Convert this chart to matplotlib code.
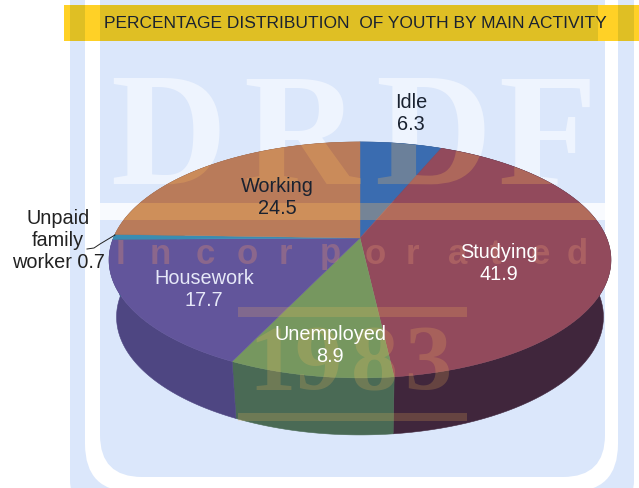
import numpy as np
import matplotlib
matplotlib.use("Agg")
import matplotlib.pyplot as plt
from matplotlib.font_manager import FontProperties
from matplotlib.patches import Polygon, FancyBboxPatch, Rectangle, PathPatch
from matplotlib.textpath import TextPath
from matplotlib.transforms import Affine2D

plt.rcParams['font.family'] = ['Liberation Sans', 'DejaVu Sans']

categories = ['Idle', 'Studying', 'Unemployed', 'Housework', 'Unpaid family worker', 'Working']
values = [6.3, 41.9, 8.9, 17.7, 0.7, 24.5]
top_colors = ['#3a6cb0', '#924a5c', '#76975f', '#62559b', '#3a8db2', '#b97b5a']
side_colors = ['#2c4f80', '#40263c', '#4a6a55', '#4e4682', '#2c6a85', '#8a5a40']
label_text = ['Idle\n6.3', 'Studying\n41.9', 'Unemployed\n8.9', 'Housework\n17.7',
              'Unpaid\nfamily\nworker 0.7', 'Working\n24.5']
label_pos = [(411, 114), (499, 264), (330, 345), (204, 289), (58, 241), (277, 198)]
label_color = ['#1a2230', 'white', 'white', '#e6e8f8', '#222222', '#1a2230']
title = 'PERCENTAGE DISTRIBUTION  OF YOUTH BY MAIN ACTIVITY'

BG = '#dbe7fb'
CX, CY = 360, 238
K, A, B = 0.186, 113.9, 246.6
DEPTH = 57
BOTTOM_SCALE = 0.97
LIFT = (1.0, 0.745, 0.353)


def project(theta):
    # pie seen in perspective, theta runs clockwise from 12 o'clock
    u, v = np.sin(theta), np.cos(theta)
    d = 1 + K * v
    return B * u / d, A * v / d


fig = plt.figure(figsize=(6.39, 4.88), dpi=100)
ax = fig.add_axes([0, 0, 1, 1])
ax.set_xlim(0, 639)
ax.set_ylim(488, 0)
ax.axis('off')

# page background with the shield shaped frame of the watermark
ax.add_patch(FancyBboxPatch((70, -80), 564, 590, boxstyle='round,pad=0,rounding_size=30',
                            fc=BG, ec='none', zorder=1))
ax.add_patch(FancyBboxPatch((85, -80), 533, 572, boxstyle='round,pad=0,rounding_size=48',
                            fc='white', ec='none', zorder=1.1))
ax.add_patch(FancyBboxPatch((100, -80), 505, 557, boxstyle='round,pad=0,rounding_size=42',
                            fc=BG, ec='none', zorder=1.2))

letter_x = [110, 243, 375, 498]
letter_base = 184
for ch, xp in zip('DRDF', letter_x):
    ax.text(xp, letter_base, ch, family=['Liberation Serif'], weight='bold', fontsize=116,
            color='#eef4fe', ha='left', va='baseline', zorder=1.5)
ax.add_patch(Rectangle((100, 203), 505, 17, fc='#f8fafe', ec='none', zorder=1.5))

# side wall of every slice, then the top faces
edges = np.cumsum([0] + values) / 100 * 2 * np.pi
for i in range(len(values)):
    th = np.linspace(edges[i], edges[i + 1], 80)
    x, y = project(th)
    top = np.column_stack([CX + x, CY - y])
    low = np.column_stack([CX + x * BOTTOM_SCALE, CY - y + DEPTH])
    ax.add_patch(Polygon(np.vstack([top, low[::-1]]), fc=side_colors[i], ec=side_colors[i],
                         lw=0.4, zorder=2))
for i in range(len(values)):
    th = np.linspace(edges[i], edges[i + 1], 120)
    x, y = project(th)
    pts = np.vstack([[CX, CY], np.column_stack([CX + x, CY - y])])
    ax.add_patch(Polygon(pts, fc=top_colors[i], ec=top_colors[i], lw=0.3, zorder=3))

# the watermark shows through the pie, agg ignores clip paths on text so use outlines here
th = np.linspace(0, 2 * np.pi, 300)
x, y = project(th)
face = Polygon(np.column_stack([CX + x, CY - y]), transform=ax.transData)
fp = FontProperties(family='Liberation Serif', weight='bold')
for ch, xp in zip('DRDF', letter_x):
    path = TextPath((0, 0), ch, size=116 * 100 / 72, prop=fp)
    tint = PathPatch(path, fc=LIFT, ec='none', alpha=0.25, zorder=4,
                     transform=Affine2D().scale(1, -1).translate(xp, letter_base) + ax.transData)
    ax.add_patch(tint)
    tint.set_clip_path(face)
r = ax.add_patch(Rectangle((100, 203), 505, 17, fc=LIFT, ec='none', alpha=0.3, zorder=4))
r.set_clip_path(face)

for ch, xp in zip('Incorporated', [120, 160, 205, 247, 285, 330, 375, 412, 458, 495, 540, 577]):
    ax.text(xp, 254, ch, family=['Liberation Sans'], weight='bold', fontsize=25, color='#d88a70',
            alpha=0.35, ha='center', va='center', zorder=4)
for ch, xp in zip('1983', [272, 318, 374, 428]):
    ax.text(xp, 367, ch, family=['Liberation Serif'], weight='bold', fontsize=68, color=LIFT,
            alpha=0.2, ha='center', va='center', zorder=4)
ax.add_patch(Rectangle((238, 307), 229, 10, fc=LIFT, ec='none', alpha=0.2, zorder=4))
ax.add_patch(Rectangle((238, 413), 229, 8, fc=LIFT, ec='none', alpha=0.2, zorder=4))

# title strip, darker where the pale blue runs behind it
ax.add_patch(Rectangle((64, 5), 575, 36, fc='#ffd126', ec='none', zorder=5))
for x0, w in [(70, 15), (100, 498), (618, 16)]:
    ax.add_patch(Rectangle((x0, 5), w, 36, fc='#dfbf24', ec='none', zorder=5.1))
ax.text(355, 24, title, fontsize=12.5, color='#1a2230', ha='center', va='center', zorder=6)

for txt, (xp, yp), c in zip(label_text, label_pos, label_color):
    ax.text(xp, yp, txt, fontsize=14.3, color=c, ha='center', va='center',
            linespacing=1.2, zorder=6)

# leader of the small slice
ax.plot([115, 100, 94, 87], [235, 244, 248, 249], color='#222222', lw=0.7, zorder=6)

fig.savefig('out.png', dpi=100)
